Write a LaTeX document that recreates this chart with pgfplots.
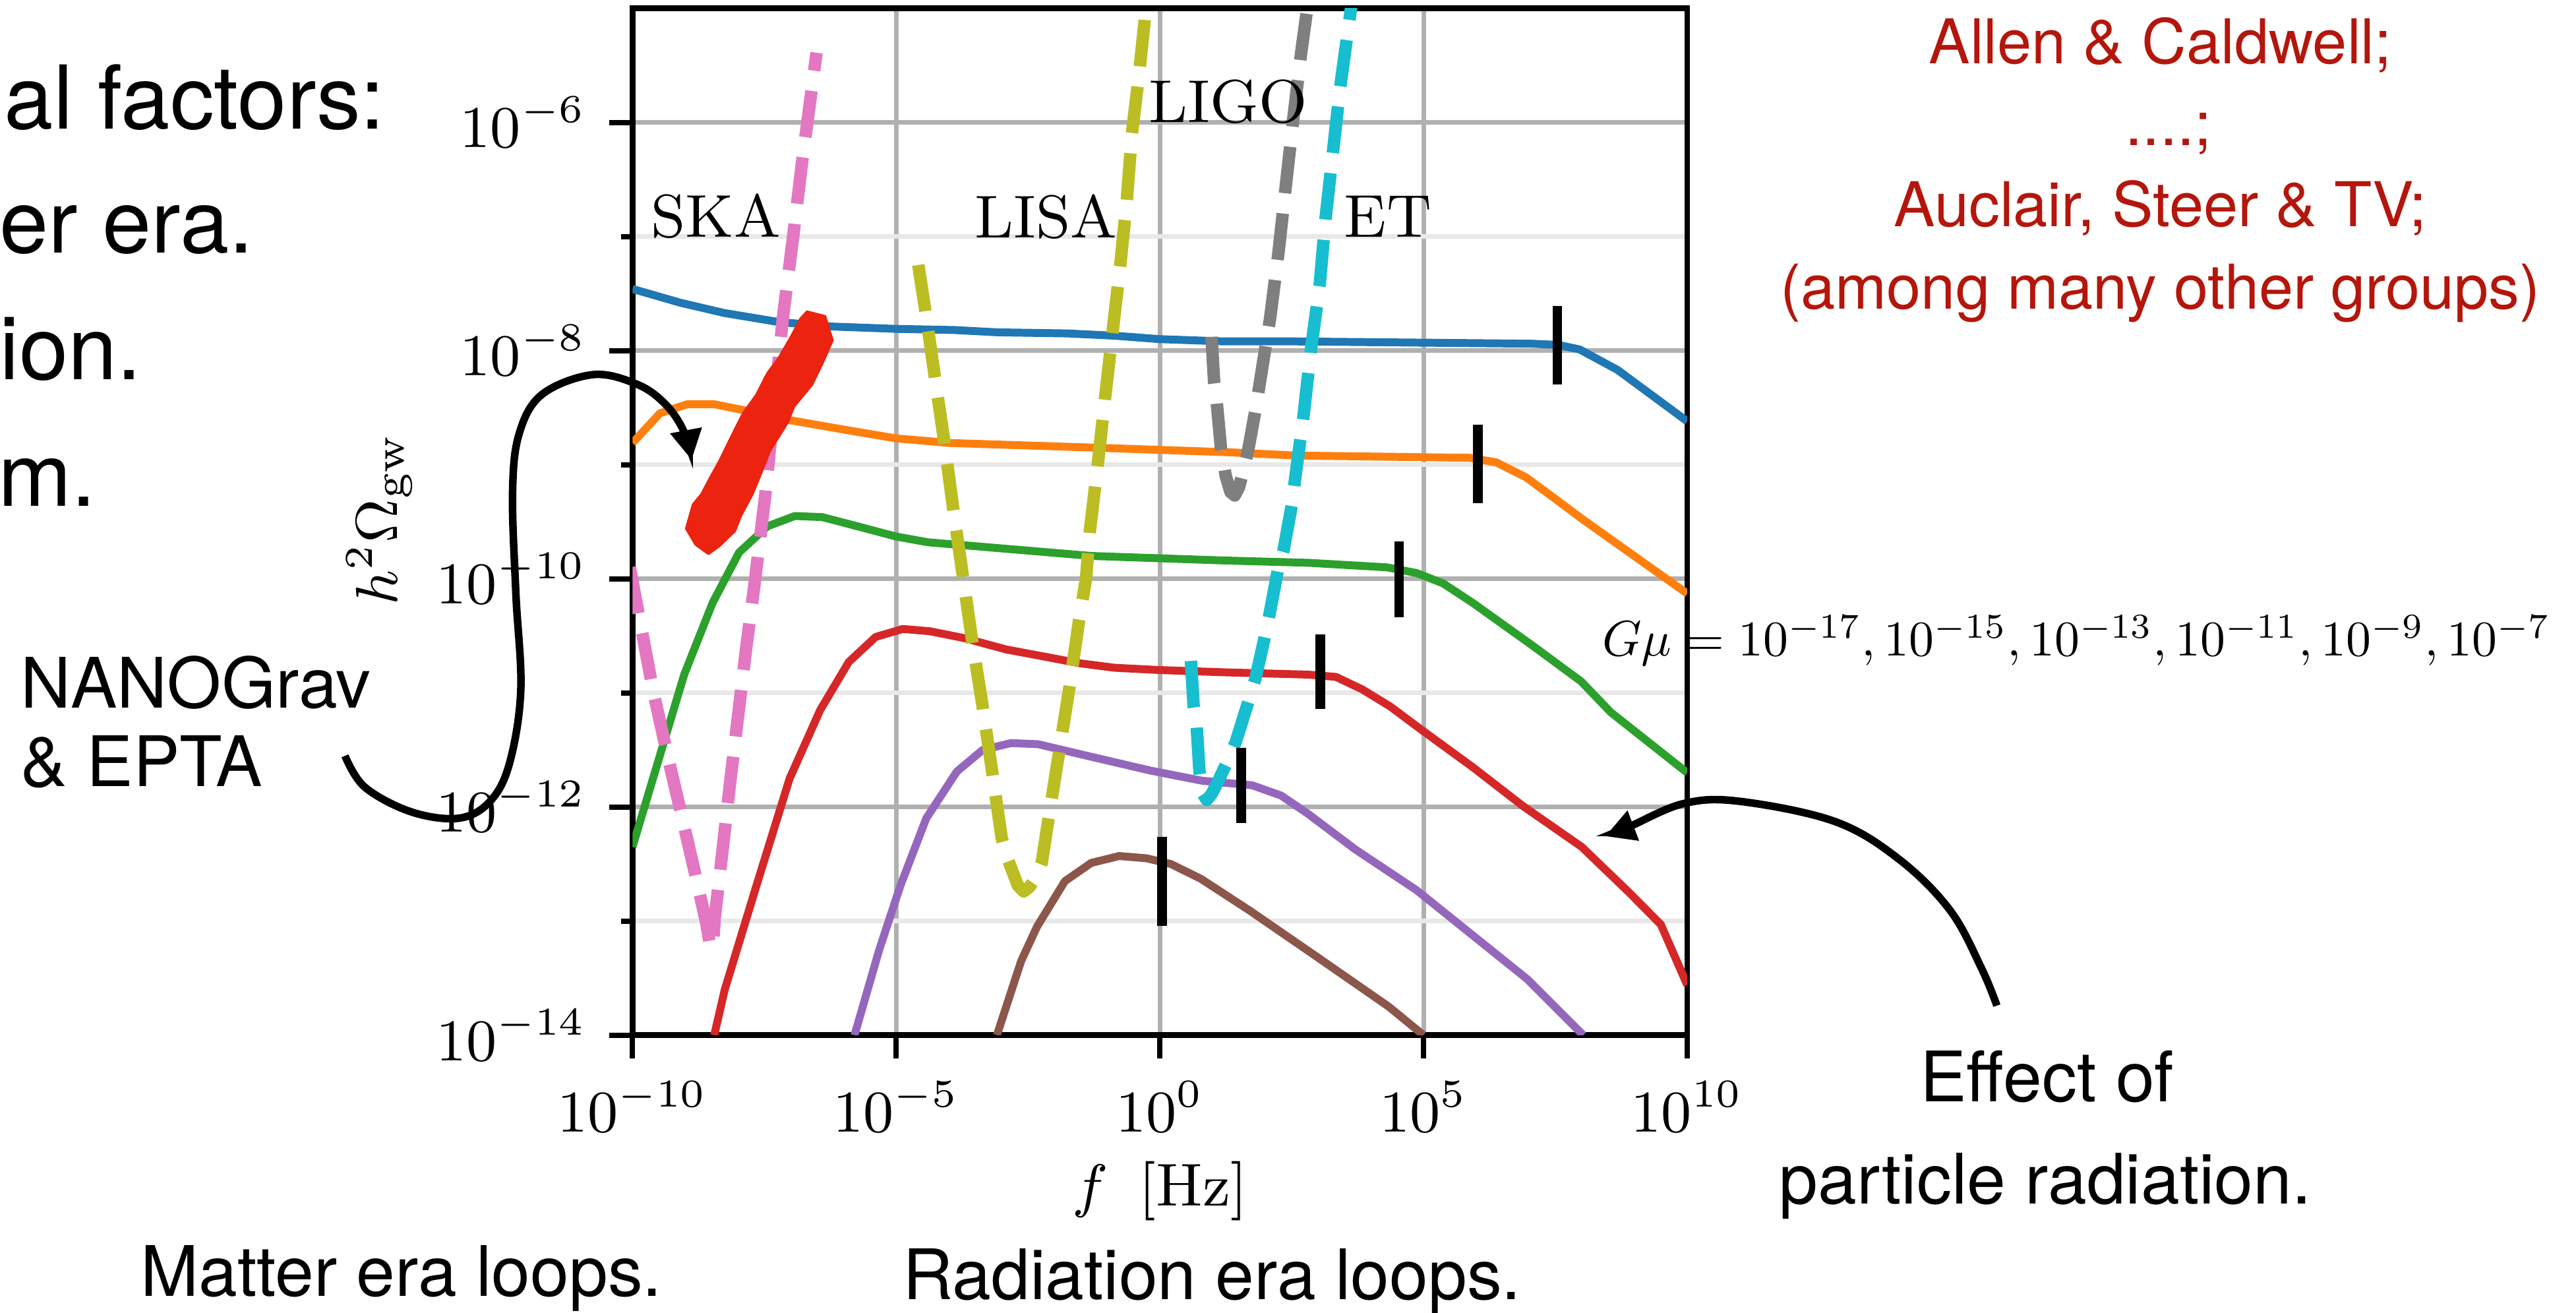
\documentclass[border=0pt]{standalone}
\usepackage{pgfplots}
\pgfplotsset{compat=1.18}
\usepackage{fontspec}
\newfontfamily\hel{TeX Gyre Heros}
\usetikzlibrary{arrows.meta}

\definecolor{c0}{HTML}{1F77B4}
\definecolor{c1}{HTML}{FF7F0E}
\definecolor{c2}{HTML}{2CA02C}
\definecolor{c3}{HTML}{D62728}
\definecolor{c4}{HTML}{9467BD}
\definecolor{c5}{HTML}{8C564B}
\definecolor{c6}{HTML}{E377C2}
\definecolor{c7}{HTML}{7F7F7F}
\definecolor{c8}{HTML}{BCBD22}
\definecolor{c9}{HTML}{17BECF}
\definecolor{gmaj}{HTML}{B0B0B0}
\definecolor{gmin}{HTML}{E8E8E8}
\definecolor{blob}{HTML}{EC230F}
\definecolor{refred}{RGB}{180,22,12}

\begin{document}
\begin{tikzpicture}
\useasboundingbox (0,0) rectangle (392pt,199.75pt);
\clip (0,0) rectangle (392pt,199.75pt);

% axis values are log10 of f [Hz] and of h^2 Omega_gw
\begin{axis}[
    at={(96.25pt,42.25pt)}, anchor=south west,
    scale only axis, width=160.5pt, height=156.25pt,
    xmin=-10, xmax=10, ymin=-14, ymax=-5,
    xtick={-10,-5,0,5,10},
    xticklabels={$10^{-10}$,$10^{-5}$,$10^{0}$,$10^{5}$,$10^{10}$},
    ytick={-14,-12,-10,-8,-6},
    yticklabels={$10^{-14}$,$10^{-12}$,$10^{-10}$,$10^{-8}$,$10^{-6}$},
    minor ytick={-13,-11,-9,-7},
    tick pos=left, tick align=outside,
    major tick length=3.5pt, minor tick length=1.75pt,
    tick style={black, line width=0.8pt},
    axis line style={line width=0.85pt},
    grid=both,
    major grid style={draw=gmaj, line width=0.7pt},
    minor grid style={draw=gmin, line width=0.7pt},
    tick label style={font=\fontsize{9}{10}\selectfont},
    every axis plot/.append style={no markers, line join=round},
]
% G mu = 1e-7 ... 1e-17
\addplot[c0, line width=1.2pt] coordinates {(-10,-7.46)(-9.10,-7.58)(-8.27,-7.67)(-7.23,-7.75)(-6.19,-7.79)(-5.0,-7.81)(-3.90,-7.82)(-3.09,-7.84)(-1.75,-7.85)(-0.86,-7.87)(0,-7.90)(1.23,-7.92)(2.58,-7.92)(4.82,-7.93)(7.05,-7.94)(7.55,-7.95)(7.96,-7.99)(8.68,-8.17)(10,-8.62)};
\addplot[c1, line width=1.2pt] coordinates {(-10,-8.81)(-9.48,-8.55)(-8.96,-8.47)(-8.46,-8.47)(-7.81,-8.53)(-7.02,-8.61)(-6.40,-8.66)(-5.77,-8.71)(-5.0,-8.77)(-3.98,-8.81)(-1.30,-8.85)(1.23,-8.89)(2.58,-8.92)(5.88,-8.94)(6.38,-8.98)(6.94,-9.11)(7.44,-9.28)(7.99,-9.47)(10,-10.13)};
\addplot[c2, line width=1.2pt] coordinates {(-10,-12.35)(-9.52,-11.61)(-9.02,-10.84)(-8.48,-10.21)(-7.98,-9.77)(-7.44,-9.54)(-6.92,-9.45)(-6.40,-9.46)(-5.90,-9.52)(-5.0,-9.63)(-4.40,-9.68)(-3.36,-9.72)(-1.30,-9.80)(1.23,-9.84)(2.81,-9.86)(4.31,-9.90)(4.87,-9.95)(5.37,-10.04)(5.93,-10.21)(7.05,-10.58)(7.99,-10.90)(8.55,-11.17)(10,-11.70)};
\addplot[c3, line width=1.2pt] coordinates {(-8.45,-14.0)(-8.25,-13.60)(-7.65,-12.69)(-7.02,-11.75)(-6.44,-11.15)(-5.90,-10.73)(-5.39,-10.51)(-4.875,-10.44)(-4.36,-10.46)(-3.71,-10.52)(-2.91,-10.62)(-2.33,-10.67)(-1.53,-10.74)(-0.86,-10.78)(0,-10.80)(1.23,-10.82)(2.81,-10.84)(3.34,-10.86)(3.84,-10.97)(4.37,-11.12)(4.98,-11.33)(5.93,-11.65)(6.88,-11.99)(8.0,-12.35)(8.9,-12.75)(9.5,-13.03)(10,-13.56)};
\addplot[c4, line width=1.2pt] coordinates {(-5.79,-14.0)(-5.32,-13.25)(-4.92,-12.69)(-4.43,-12.10)(-3.85,-11.69)(-3.36,-11.50)(-2.82,-11.44)(-2.31,-11.45)(-1.30,-11.56)(-0.19,-11.68)(0.80,-11.77)(1.75,-11.81)(2.30,-11.90)(2.81,-12.06)(3.70,-12.37)(4.87,-12.73)(6.97,-13.51)(8.03,-14.0)};
\addplot[c5, line width=1.2pt] coordinates {(-3.09,-14.0)(-2.63,-13.35)(-2.33,-13.05)(-1.80,-12.65)(-1.30,-12.49)(-0.77,-12.43)(-0.25,-12.45)(0.21,-12.50)(0.78,-12.63)(1.71,-12.91)(3.03,-13.33)(4.34,-13.75)(5.0,-14.0)};

% sensitivity curves
\addplot[c6, line width=1.9pt, dash pattern=on 7.1pt off 3.1pt] coordinates {(-10.05,-9.9)(-9.92,-10.22)(-9.61,-10.98)(-9.33,-11.56)(-9.05,-12.11)(-8.76,-12.69)(-8.60,-13.02)(-8.52,-13.24)(-8.47,-13.18)(-8.44,-12.97)(-8.29,-12.37)(-8.15,-11.79)(-8.0,-11.21)(-7.85,-10.63)(-7.69,-10.06)(-7.48,-9.26)(-7.15,-7.72)(-6.94,-6.95)(-6.79,-6.37)(-6.51,-5.39)};
\addplot[c8, line width=1.9pt, dash pattern=on 7.1pt off 3.1pt] coordinates {(-4.58,-7.25)(-4.45,-7.64)(-4.27,-8.22)(-4.09,-8.79)(-3.92,-9.38)(-3.74,-9.96)(-3.56,-10.54)(-3.36,-11.12)(-3.18,-11.69)(-3.0,-12.27)(-2.89,-12.45)(-2.69,-12.69)(-2.58,-12.74)(-2.47,-12.70)(-2.35,-12.62)(-2.24,-12.49)(-2.11,-12.10)(-1.91,-11.52)(-1.71,-10.94)(-1.53,-10.36)(-1.40,-10.0)(-1.33,-9.59)(-1.18,-9.01)(-1.04,-8.42)(-0.90,-7.85)(-0.75,-7.25)(-0.63,-6.70)(-0.53,-6.10)(-0.40,-5.60)(-0.29,-5.12)(-0.26,-4.95)};
\addplot[c7, line width=1.9pt, dash pattern=on 7.1pt off 3.1pt] coordinates {(0.98,-7.88)(1.03,-8.28)(1.08,-8.46)(1.16,-8.86)(1.25,-9.10)(1.34,-9.24)(1.42,-9.27)(1.50,-9.20)(1.59,-9.04)(1.68,-8.86)(1.83,-8.48)(1.89,-8.30)(2.09,-7.72)(2.25,-7.14)(2.39,-6.55)(2.53,-5.97)(2.68,-5.39)(2.81,-4.95)};
\addplot[c9, line width=1.9pt, dash pattern=on 7.1pt off 3.1pt] coordinates {(0.59,-10.72)(0.64,-11.11)(0.70,-11.30)(0.75,-11.68)(0.81,-11.88)(0.89,-11.94)(0.99,-11.88)(1.10,-11.78)(1.27,-11.61)(1.44,-11.43)(1.69,-11.06)(1.81,-10.88)(2.00,-10.49)(2.08,-10.31)(2.24,-9.92)(2.35,-9.74)(2.50,-9.36)(2.60,-9.0)(2.72,-8.59)(2.86,-8.01)(3.03,-7.43)(3.14,-6.85)(3.28,-6.27)(3.42,-5.69)(3.64,-4.95)};

% NANOGrav / EPTA region
\addplot[blob, fill=blob, line width=0.4pt] coordinates {(-6.69,-7.66)(-6.35,-7.70)(-6.21,-7.91)(-6.40,-8.11)(-6.60,-8.30)(-6.94,-8.49)(-7.06,-8.63)(-7.40,-8.88)(-7.56,-9.07)(-7.73,-9.26)(-7.95,-9.45)(-8.06,-9.58)(-8.35,-9.71)(-8.56,-9.78)(-8.80,-9.70)(-8.98,-9.56)(-8.85,-9.35)(-8.69,-9.26)(-8.52,-9.11)(-8.35,-8.97)(-8.15,-8.78)(-7.90,-8.55)(-7.65,-8.39)(-7.44,-8.20)(-7.23,-8.07)(-6.98,-7.87)(-6.81,-7.72)} -- cycle;

% markers on each curve
\addplot[black, line width=1.45pt] coordinates {(7.54,-7.61)(7.54,-8.30)};
\addplot[black, line width=1.45pt] coordinates {(6.03,-8.65)(6.03,-9.34)};
\addplot[black, line width=1.45pt] coordinates {(4.54,-9.67)(4.54,-10.34)};
\addplot[black, line width=1.45pt] coordinates {(3.04,-10.49)(3.04,-11.14)};
\addplot[black, line width=1.45pt] coordinates {(1.54,-11.48)(1.54,-12.14)};
\addplot[black, line width=1.45pt] coordinates {(0.04,-12.26)(0.04,-13.04)};
\end{axis}

\begin{scope}[x=0.25pt, y=-0.25pt, shift={(0pt,199.75pt)}, every node/.style={inner sep=0pt}]
\node[anchor=base, font=\fontsize{9.2}{10}\selectfont] at (435.7,144.5) {SKA};
\node[anchor=base, font=\fontsize{9.2}{10}\selectfont] at (636.8,144.6) {LISA};
\node[anchor=base, font=\fontsize{9.2}{10}\selectfont] at (747.6,74.4) {LIGO};
\node[anchor=base, font=\fontsize{9.2}{10}\selectfont] at (844.8,144.2) {ET};
\node[font=\fontsize{9.2}{10}\selectfont] at (706,725) {$f\ \,[\mathrm{Hz}]$};
\node[rotate=90, font=\fontsize{9.2}{10}\selectfont] at (231,316) {$h^2\Omega_{\mathrm{gw}}$};
\node[anchor=base west] at (974.5,399.2) {\resizebox{144.3pt}{!}{$G\mu = 10^{-17}, 10^{-15}, 10^{-13}, 10^{-11}, 10^{-9}, 10^{-7}$}};

\begin{scope}[font=\hel\fontsize{13.4}{15}\selectfont]
\node[anchor=base west] at (2,78.3) {al factors:};
\node[anchor=base west] at (-1,153.8) {er era.};
\node[anchor=base west] at (-1,231) {ion.};
\node[anchor=base west] at (-2,308) {m.};
\end{scope}

\begin{scope}[font=\hel\fontsize{10.6}{12}\selectfont]
\node[anchor=base west] at (12,431) {NANOGrav};
\node[anchor=base west] at (12,478.5) {\& EPTA};
\node[anchor=base west] at (85,789) {Matter era loops.};
\node[anchor=base west] at (549,791) {Radiation era loops.};
\node[anchor=base] at (1246,670.5) {Effect of};
\node[anchor=base] at (1245,732.6) {particle radiation.};
\end{scope}

\begin{scope}[font=\hel\fontsize{9.4}{11}\selectfont, text=refred]
\node[anchor=base] at (1315,38.8) {Allen \& Caldwell;};
\node[anchor=base] at (1320,88.7) {....;};
\node[anchor=base] at (1315,137.9) {Auclair, Steer \& TV;};
\node[anchor=base] at (1315,188) {(among many other groups)};
\end{scope}

\draw[line width=1.15pt, -{Triangle[length=4.6pt,width=4.6pt]}] plot[smooth, tension=0.6] coordinates {(210,460) (222,479) (250,494) (279,498) (298,488) (310,465) (317,420) (314,361) (312,300) (316,264) (330,240) (361,228) (388,234) (405,246) (416,262) (421,280)};
\draw[line width=1.15pt, -{Triangle[length=4.6pt,width=4.6pt]}] plot[smooth, tension=0.6] coordinates {(1215.5,612) (1206,589) (1187,554) (1156,523) (1117,500) (1059,487.7) (1025,489) (992,503) (977,509)};
\end{scope}
\end{tikzpicture}
\end{document}
